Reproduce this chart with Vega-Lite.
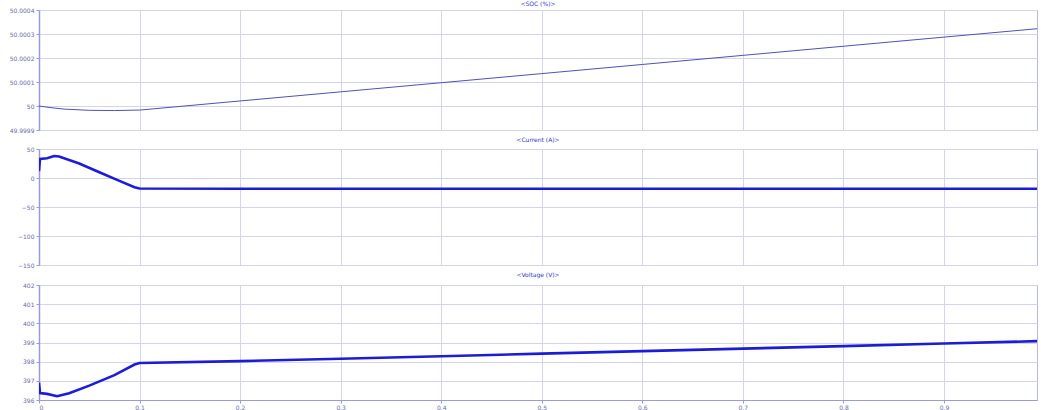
{
  "$schema": "https://vega.github.io/schema/vega-lite/v6.json",
  "padding": {"left": 3, "top": 0, "right": 3, "bottom": 0},
  "background": "white",
  "spacing": 2,
  "datasets": {
    "soc": [
      {"t": 0, "v": 50.0},
      {"t": 0.01, "v": 49.999994},
      {"t": 0.025, "v": 49.999987},
      {"t": 0.05, "v": 49.999982},
      {"t": 0.075, "v": 49.999981},
      {"t": 0.1, "v": 49.999983},
      {"t": 0.2, "v": 50.000021},
      {"t": 0.3, "v": 50.000059},
      {"t": 0.4, "v": 50.000097},
      {"t": 0.5, "v": 50.000135},
      {"t": 0.6, "v": 50.000173},
      {"t": 0.7, "v": 50.000211},
      {"t": 0.8, "v": 50.000249},
      {"t": 0.9, "v": 50.000287},
      {"t": 0.9925, "v": 50.000322}
    ],
    "cur": [
      {"t": 0, "v": 12},
      {"t": 0.001, "v": 33},
      {"t": 0.008, "v": 34},
      {"t": 0.015, "v": 38},
      {"t": 0.02, "v": 37},
      {"t": 0.04, "v": 25},
      {"t": 0.06, "v": 10},
      {"t": 0.08, "v": -5},
      {"t": 0.095, "v": -16},
      {"t": 0.1, "v": -18},
      {"t": 0.2, "v": -18.5},
      {"t": 0.4, "v": -18.5},
      {"t": 0.6, "v": -18.5},
      {"t": 0.8, "v": -18.5},
      {"t": 0.9925, "v": -18.5}
    ],
    "volt": [
      {"t": 0, "v": 396.9},
      {"t": 0.001, "v": 396.36},
      {"t": 0.008, "v": 396.32},
      {"t": 0.018, "v": 396.2},
      {"t": 0.03, "v": 396.35},
      {"t": 0.05, "v": 396.75},
      {"t": 0.075, "v": 397.3},
      {"t": 0.095, "v": 397.85},
      {"t": 0.1, "v": 397.93},
      {"t": 0.2, "v": 398.03},
      {"t": 0.3, "v": 398.15},
      {"t": 0.4, "v": 398.28},
      {"t": 0.5, "v": 398.42},
      {"t": 0.6, "v": 398.55},
      {"t": 0.7, "v": 398.68},
      {"t": 0.8, "v": 398.81},
      {"t": 0.9, "v": 398.95},
      {"t": 0.9925, "v": 399.07}
    ]
  },
  "config": {
    "font": "DejaVu Sans",
    "view": {"stroke": "#b8b8e0", "strokeWidth": 1},
    "axis": {
      "labelFontSize": 6,
      "labelColor": "#6a6aa8",
      "domainColor": "#9a9ad8",
      "tickColor": "#9a9ad8",
      "gridColor": "#d4d4ec",
      "gridWidth": 1,
      "tickSize": 3,
      "labelPadding": 2,
      "title": null
    },
    "axisY": {"minExtent": 35, "maxExtent": 35, "domainWidth": 1.5},
    "title": {"fontSize": 6, "color": "#3535c8", "fontWeight": "normal", "offset": 2}
  },
  "vconcat": [
    {
      "width": 998,
      "height": 120,
      "title": {"text": "<SOC (%)>", "offset": 0},
      "data": {"name": "soc"},
      "mark": {"type": "line", "color": "#5050b8", "strokeWidth": 1, "clip": true},
      "encoding": {
        "x": {"field": "t", "type": "quantitative", "scale": {"domain": [0, 0.9925], "nice": false},
              "axis": {"values": [0, 0.1, 0.2, 0.3, 0.4, 0.5, 0.6, 0.7, 0.8, 0.9], "labels": false, "ticks": false, "domain": false, "minExtent": 0, "maxExtent": 0}},
        "y": {"field": "v", "type": "quantitative", "scale": {"domain": [49.9999, 50.0004], "nice": false, "zero": false},
              "axis": {"values": [49.9999, 50, 50.0001, 50.0002, 50.0003, 50.0004], "format": ".4~f"}}
      }
    },
    {
      "width": 998,
      "height": 116,
      "title": {"text": "<Current (A)>", "offset": 3},
      "data": {"name": "cur"},
      "mark": {"type": "line", "color": "#1c1cd8", "strokeWidth": 2.6, "clip": true},
      "encoding": {
        "x": {"field": "t", "type": "quantitative", "scale": {"domain": [0, 0.9925], "nice": false},
              "axis": {"values": [0, 0.1, 0.2, 0.3, 0.4, 0.5, 0.6, 0.7, 0.8, 0.9], "labels": false, "ticks": false, "domain": false, "minExtent": 0, "maxExtent": 0}},
        "y": {"field": "v", "type": "quantitative", "scale": {"domain": [-150, 50], "nice": false},
              "axis": {"values": [-150, -100, -50, 0, 50]}}
      }
    },
    {
      "width": 998,
      "height": 115,
      "title": {"text": "<Voltage (V)>", "offset": 4},
      "data": {"name": "volt"},
      "mark": {"type": "line", "color": "#1c1cd8", "strokeWidth": 2.6, "clip": true},
      "encoding": {
        "x": {"field": "t", "type": "quantitative", "scale": {"domain": [0, 0.9925], "nice": false},
              "axis": {"values": [0, 0.1, 0.2, 0.3, 0.4, 0.5, 0.6, 0.7, 0.8, 0.9], "format": ".1~f", "labelPadding": 1}},
        "y": {"field": "v", "type": "quantitative", "scale": {"domain": [396, 402], "nice": false, "zero": false},
              "axis": {"values": [396, 397, 398, 399, 400, 401, 402]}}
      }
    }
  ]
}
